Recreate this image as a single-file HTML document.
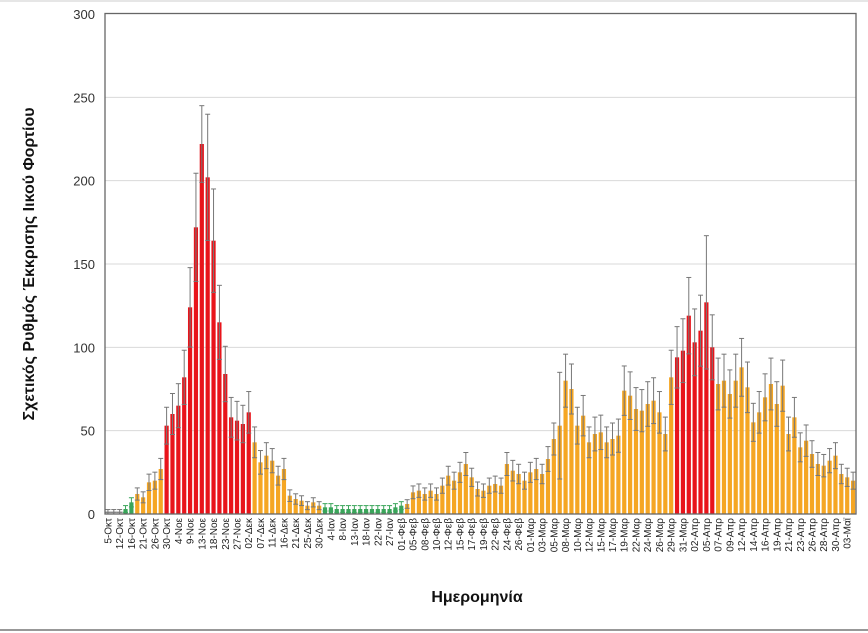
<!DOCTYPE html>
<html><head><meta charset="utf-8"><style>
html,body{margin:0;padding:0;background:#fff;}
svg{display:block;font-family:"Liberation Sans","DejaVu Sans",sans-serif;}
</style></head><body>
<svg id="c" width="868" height="633" viewBox="0 0 868 633" xmlns="http://www.w3.org/2000/svg">
<rect x="0" y="0" width="868" height="633" fill="#fff"/>
<line x1="0" y1="1" x2="868" y2="1" stroke="#ddd" stroke-width="1.5"/>
<line x1="0" y1="630" x2="868" y2="630" stroke="#777" stroke-width="1.5"/>
<g id="grid"></g>
<g id="bars"></g>
<g id="err"></g>
<rect x="105" y="13.5" width="751" height="500.5" fill="none" stroke="#666" stroke-width="1.3"/>
<g id="yt" font-size="13" fill="#333" text-anchor="end"></g>
<g id="xt" font-size="10" fill="#222"></g>
<text x="0" y="0" transform="translate(34,264) rotate(-90)" text-anchor="middle" font-size="16" font-weight="bold" fill="#111">Σχετικός Ρυθμός Έκκρισης Ιικού Φορτίου</text>
<text x="477" y="602" text-anchor="middle" font-size="16" font-weight="bold" fill="#111">Ημερομηνία</text>
</svg>
<script>
var v=[1,1,1,3,7,12,10,19,20,27,53,60,65,82,124,172,222,202,164,115,84,58,56,54,61,43,31,35,32,23,27,11,9,8,5,7,5,4,4,3,3,3,3,3,3,3,3,3,3,4,5,6,
13,14,12,14,12,17,23,20,25,30,22,15,14,17,18,17,30,26,24,20,25,27,24,33,45,53,80,75,53,59,43,48,49,43,45,47,74,71,63,62,66,68,61,48,82,
94,98,119,103,110,127,100,
78,80,72,80,88,76,55,61,70,78,66,77,48,58,40,44,36,30,29,32,35,24,22];
// pad/truncate to 128
while(v.length<128)v.push(20);v=v.slice(0,128);
var col=[];for(var i=0;i<128;i++){var c='#f5a623';
if(i<=2)c='#888';else if(i<=4)c='#3aa55a';else if(i>=10&&i<=24)c='#e8141b';else if(i>=37&&i<=51)c='#3aa55a';else if(i>=97&&i<=103)c='#e8141b';col.push(c);}
// fix: green range roughly 37..50
col[51]='#f5a623';
var NS="http://www.w3.org/2000/svg";
function el(t,a,p){var e=document.createElementNS(NS,t);for(var k in a)e.setAttribute(k,a[k]);document.getElementById(p).appendChild(e);return e;}
function Y(val){return 514-val*500/300;}
for(var g=50;g<=250;g+=50)el('line',{x1:105,x2:856,y1:Y(g),y2:Y(g),stroke:'#d9d9d9','stroke-width':1},'grid');
for(var g=0;g<=300;g+=50){var t=el('text',{x:95,y:Y(g)+5},'yt');t.textContent=g;}
var pitch=751/128;
for(var i=0;i<128;i++){var cx=105+pitch*(i+0.5);var h=v[i];
if(i<=2){el('line',{x1:cx-3,x2:cx+3,y1:Y(h),y2:Y(h),stroke:'#888','stroke-width':1.5},'bars');}
else el('rect',{x:cx-2.1,y:Y(h),width:4.2,height:514-Y(h),fill:col[i]},'bars');
var e=h*0.18+1.5;if(i==16)e=23;if(i==102)e=40;if(i==77)e=32;
var ec=(col[i]=='#3aa55a')?'#3aa55a':'#777';
el('line',{x1:cx,x2:cx,y1:Y(h+e),y2:Y(Math.max(0,h-e)),stroke:ec,'stroke-width':1},'err');
el('line',{x1:cx-2.5,x2:cx+2.5,y1:Y(h+e),y2:Y(h+e),stroke:ec,'stroke-width':1},'err');
el('line',{x1:cx-2.5,x2:cx+2.5,y1:Y(Math.max(0,h-e)),y2:Y(Math.max(0,h-e)),stroke:ec,'stroke-width':1},'err');}
var L="5-Οκτ,12-Οκτ,16-Οκτ,21-Οκτ,26-Οκτ,30-Οκτ,4-Νοε,9-Νοε,13-Νοε,18-Νοε,23-Νοε,27-Νοε,02-Δεκ,07-Δεκ,11-Δεκ,16-Δεκ,21-Δεκ,25-Δεκ,30-Δεκ,4-Ιαν,8-Ιαν,13-Ιαν,18-Ιαν,22-Ιαν,27-Ιαν,01-Φεβ,05-Φεβ,08-Φεβ,10-Φεβ,12-Φεβ,15-Φεβ,17-Φεβ,19-Φεβ,22-Φεβ,24-Φεβ,26-Φεβ,01-Μαρ,03-Μαρ,05-Μαρ,08-Μαρ,10-Μαρ,12-Μαρ,15-Μαρ,17-Μαρ,19-Μαρ,22-Μαρ,24-Μαρ,26-Μαρ,29-Μαρ,31-Μαρ,02-Απρ,05-Απρ,07-Απρ,09-Απρ,12-Απρ,14-Απρ,16-Απρ,19-Απρ,21-Απρ,23-Απρ,26-Απρ,28-Απρ,30-Απρ,03-Μαϊ".split(',');
for(var k=0;k<L.length;k++){var cx=105+pitch*(2*k+0.5)+3.5;var t=el('text',{x:0,y:0,transform:'translate('+cx+',518) rotate(-90)','text-anchor':'end'},'xt');t.textContent=L[k];}
</script>
</body></html>
